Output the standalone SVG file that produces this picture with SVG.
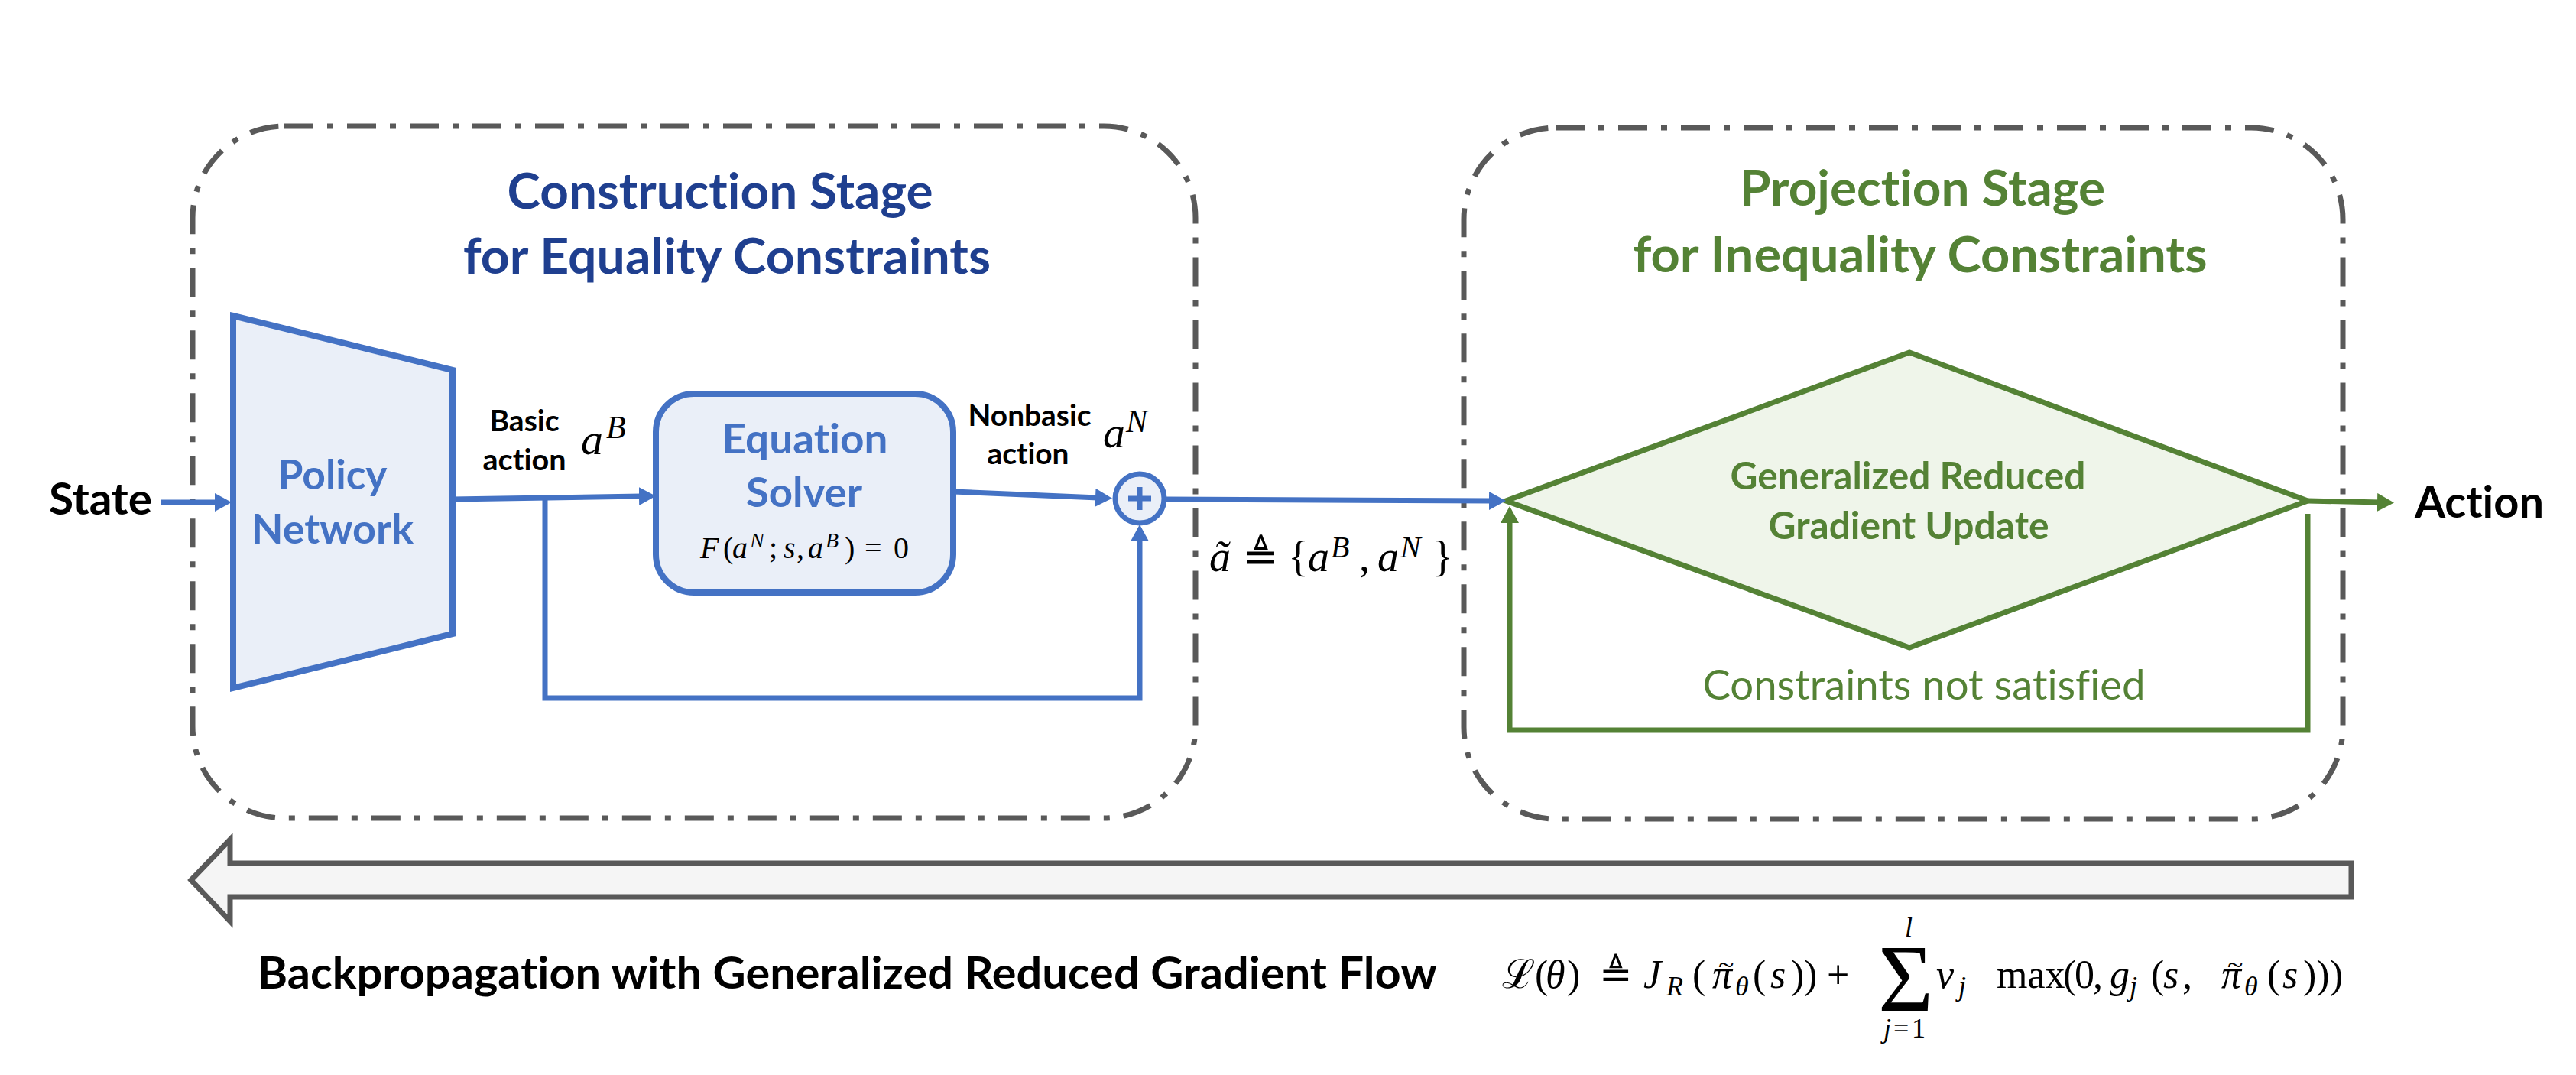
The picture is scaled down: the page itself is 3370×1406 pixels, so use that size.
<svg xmlns="http://www.w3.org/2000/svg" width="3370" height="1406" viewBox="0 0 3370 1406">
<style>
.cal{font-family:Lato,"Open Sans","Liberation Sans",sans-serif;font-weight:700;font-variant-ligatures:none;font-feature-settings:"liga" 0}
.reg{font-family:Lato,"Open Sans","Liberation Sans",sans-serif;font-weight:400;font-variant-ligatures:none;font-feature-settings:"liga" 0}
.m{font-family:"Liberation Serif","DejaVu Serif",serif;fill:#000}
.i{font-style:italic}
.stage{fill:none;stroke:#595959;stroke-width:7;stroke-dasharray:38 18 8 18}
.bl{fill:none;stroke:#4472C4;stroke-width:7}
.gr{fill:none;stroke:#548235;stroke-width:7}
.bfill{fill:#EAEFF8;stroke:#4472C4;stroke-width:8}
</style>
<defs>
<marker id="ab" markerUnits="userSpaceOnUse" markerWidth="24" markerHeight="26" refX="4" refY="12" orient="auto"><path d="M0,0 L22,12 L0,24 z" fill="#4472C4"/></marker>
<marker id="ag" markerUnits="userSpaceOnUse" markerWidth="24" markerHeight="26" refX="4" refY="12" orient="auto"><path d="M0,0 L22,12 L0,24 z" fill="#548235"/></marker>
</defs>
<rect width="3370" height="1406" fill="#FFFFFF"/>

<g id="construction-stage">
<rect class="stage" x="252" y="165" width="1312" height="905" rx="120" ry="120"/>
<text class="cal" x="942" y="273" font-size="65" fill="#1F3F8F" text-anchor="middle" textLength="557" lengthAdjust="spacingAndGlyphs">Construction Stage</text>
<text class="cal" x="951" y="358" font-size="65" fill="#1F3F8F" text-anchor="middle" textLength="690" lengthAdjust="spacingAndGlyphs">for Equality Constraints</text>
</g>

<g id="projection-stage">
<rect class="stage" x="1915" y="167" width="1150" height="904" rx="120" ry="120"/>
<text class="cal" x="2515" y="269" font-size="65" fill="#548235" text-anchor="middle" textLength="478" lengthAdjust="spacingAndGlyphs">Projection Stage</text>
<text class="cal" x="2512" y="356" font-size="65" fill="#548235" text-anchor="middle" textLength="751" lengthAdjust="spacingAndGlyphs">for Inequality Constraints</text>
</g>

<g id="state">
<text class="cal" x="64" y="673" font-size="57" fill="#000" textLength="135" lengthAdjust="spacingAndGlyphs">State</text>
</g>

<g id="policy-network">
<polygon class="bfill" points="305,413 592,484 592,829 305,900"/>
<text class="cal" x="435" y="640" font-size="53" fill="#4472C4" text-anchor="middle" textLength="143" lengthAdjust="spacingAndGlyphs">Policy</text>
<text class="cal" x="435" y="711" font-size="53" fill="#4472C4" text-anchor="middle" textLength="212" lengthAdjust="spacingAndGlyphs">Network</text>
</g>

<g id="equation-solver">
<rect class="bfill" x="858" y="515" width="389" height="260" rx="50" ry="50"/>
<text class="cal" x="1053" y="593" font-size="53" fill="#4472C4" text-anchor="middle" textLength="217" lengthAdjust="spacingAndGlyphs">Equation</text>
<text class="cal" x="1052" y="663" font-size="53" fill="#4472C4" text-anchor="middle" textLength="152" lengthAdjust="spacingAndGlyphs">Solver</text>
<text class="m" font-size="40" y="730"><tspan class="i" x="916">F</tspan><tspan x="946">(</tspan><tspan class="i" x="958">a</tspan><tspan class="i" x="981" y="716" font-size="28">N</tspan><tspan x="1006" y="730">;</tspan><tspan class="i" x="1025">s</tspan><tspan x="1042">,</tspan><tspan class="i" x="1057">a</tspan><tspan class="i" x="1080" y="716" font-size="28">B</tspan><tspan x="1105" y="730">)</tspan><tspan x="1131">=</tspan><tspan x="1169">0</tspan></text>
</g>

<g id="sum-node">
<circle cx="1491" cy="652" r="32" fill="#EAEFF8" stroke="#4472C4" stroke-width="7"/>
<path d="M1476,652 L1506,652 M1491,637 L1491,667" stroke="#4472C4" stroke-width="7" fill="none"/>
</g>

<g id="grg-update">
<polygon points="1970,655 2498,461 3019,655 2498,847" fill="#EFF5EA" stroke="#548235" stroke-width="7" stroke-linejoin="miter"/>
<text class="cal" x="2496" y="640" font-size="49" fill="#548235" text-anchor="middle" textLength="465" lengthAdjust="spacingAndGlyphs">Generalized Reduced</text>
<text class="cal" x="2497" y="705" font-size="49" fill="#548235" text-anchor="middle" textLength="367" lengthAdjust="spacingAndGlyphs">Gradient Update</text>
</g>

<g id="action">
<text class="cal" x="3159" y="677" font-size="57" fill="#000" textLength="169" lengthAdjust="spacingAndGlyphs">Action</text>
</g>

<g id="connectors">
<path class="bl" d="M210,657 L285,657" marker-end="url(#ab)"/>
<path class="bl" d="M592,653 L840,649" marker-end="url(#ab)"/>
<path class="bl" d="M713,653 L713,913 L1491,913 L1491,704" marker-end="url(#ab)"/>
<path class="bl" d="M1247,643 L1437,651" marker-end="url(#ab)"/>
<path class="bl" d="M1523,653 L1952,655" marker-end="url(#ab)"/>
<path class="gr" d="M3019,655 L3114,657" marker-end="url(#ag)"/>
<path class="gr" d="M3019,672 L3019,955 L1975,955 L1975,680" marker-end="url(#ag)"/>
</g>

<g id="labels">
<text class="cal" x="686" y="564" font-size="39" fill="#000" text-anchor="middle" textLength="91" lengthAdjust="spacingAndGlyphs">Basic</text>
<text class="cal" x="686" y="615" font-size="39" fill="#000" text-anchor="middle" textLength="109" lengthAdjust="spacingAndGlyphs">action</text>
<text class="m i" font-size="58" y="594"><tspan x="760">a</tspan><tspan x="793" y="573" font-size="42">B</tspan></text>
<text class="cal" x="1347" y="557" font-size="39" fill="#000" text-anchor="middle" textLength="161" lengthAdjust="spacingAndGlyphs">Nonbasic</text>
<text class="cal" x="1345" y="607" font-size="39" fill="#000" text-anchor="middle" textLength="107" lengthAdjust="spacingAndGlyphs">action</text>
<text class="m i" font-size="58" y="585"><tspan x="1443">a</tspan><tspan x="1473" y="565" font-size="42">N</tspan></text>
<text class="m" font-size="56" y="747"><tspan class="i" x="1582">ã</tspan><tspan x="1626">≜</tspan><tspan x="1685">{</tspan><tspan class="i" x="1711">a</tspan><tspan class="i" x="1741" y="729" font-size="40">B</tspan><tspan x="1778" y="747">,</tspan><tspan class="i" x="1802">a</tspan><tspan class="i" x="1832" y="729" font-size="40">N</tspan><tspan x="1874" y="747">}</tspan></text>
<text class="reg" x="2517" y="915" font-size="54" fill="#548235" text-anchor="middle" textLength="579" lengthAdjust="spacingAndGlyphs">Constraints not satisfied</text>
</g>

<g id="backprop">
<polygon points="250,1151 301,1098 301,1129 3076,1129 3076,1173 301,1173 301,1205" fill="#F5F5F5" stroke="#595959" stroke-width="7" stroke-linejoin="miter"/>
<text class="cal" x="337" y="1293" font-size="58" fill="#000" textLength="1543" lengthAdjust="spacingAndGlyphs">Backpropagation with Generalized Reduced Gradient Flow</text>
</g>

<g id="loss">
<text class="m" font-size="52" y="1292"><tspan x="1965">ℒ</tspan><tspan x="2008">(</tspan><tspan class="i" x="2022">θ</tspan><tspan x="2050">)</tspan><tspan x="2092">≜</tspan><tspan class="i" x="2150">J</tspan><tspan class="i" x="2180" y="1302" font-size="36">R</tspan><tspan x="2214" y="1292">(</tspan><tspan class="i" x="2240">π</tspan><tspan x="2248" y="1274" font-size="38">~</tspan><tspan class="i" x="2270" y="1302" font-size="36">θ</tspan><tspan x="2293" y="1292">(</tspan><tspan class="i" x="2316">s</tspan><tspan x="2343">)</tspan><tspan x="2360">)</tspan><tspan x="2390">+</tspan><tspan x="2457" y="1322" font-size="124">Σ</tspan><tspan class="i" x="2492" y="1225" font-size="36">l</tspan><tspan class="i" x="2464" y="1357" font-size="36">j</tspan><tspan x="2477" y="1357" font-size="36">=</tspan><tspan x="2501" y="1357" font-size="36">1</tspan><tspan class="i" x="2533" y="1292">ν</tspan><tspan class="i" x="2562" y="1302" font-size="36">j</tspan><tspan x="2612" y="1292">max</tspan><tspan x="2699">(</tspan><tspan x="2714">0</tspan><tspan x="2738">,</tspan><tspan class="i" x="2760">g</tspan><tspan class="i" x="2786" y="1302" font-size="36">j</tspan><tspan x="2814" y="1292">(</tspan><tspan class="i" x="2830">s</tspan><tspan x="2855">,</tspan><tspan class="i" x="2906">π</tspan><tspan x="2914" y="1274" font-size="38">~</tspan><tspan class="i" x="2936" y="1302" font-size="36">θ</tspan><tspan x="2966" y="1292">(</tspan><tspan class="i" x="2986">s</tspan><tspan x="3013">)))</tspan></text>
</g>
</svg>
